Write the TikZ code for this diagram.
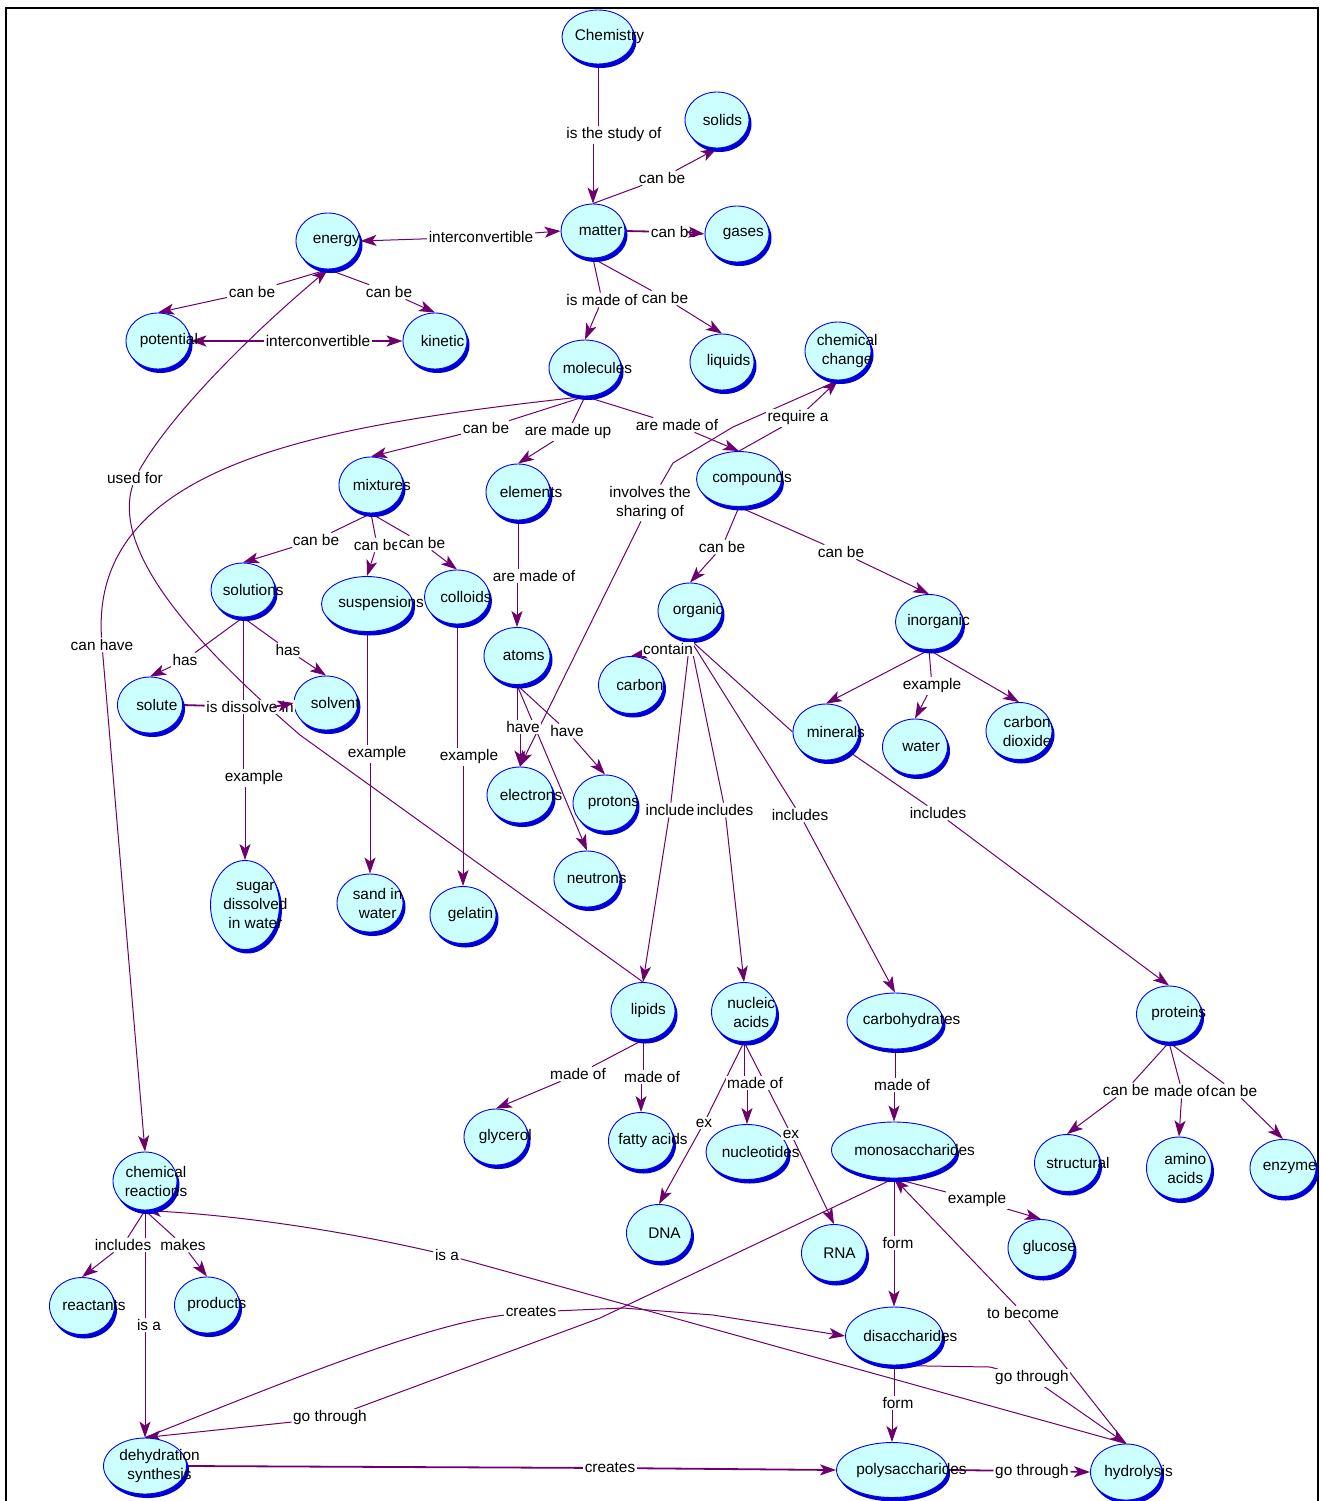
\documentclass[tikz,border=0pt]{standalone}
\usepackage{fontspec}
\setmainfont{Liberation Sans}
\usetikzlibrary{shapes.geometric,shadows,arrows.meta}
\pgfdeclarelayer{bg}
\pgfsetlayers{bg,main}
\definecolor{linkc}{RGB}{110,0,110}
\definecolor{cfill}{RGB}{204,255,255}
\definecolor{cborder}{RGB}{0,0,255}
\definecolor{cshadow}{RGB}{0,0,210}
\tikzset{
 concept/.style={ellipse, draw=cborder, line width=0.9pt, fill=cfill, inner sep=0pt,
   drop shadow={shadow xshift=2.5pt, shadow yshift=-4pt, fill=cshadow, opacity=1}},
 ctext/.style={anchor=west, inner sep=0pt, align=center, font=\fontsize{15.4}{19}\selectfont, text=black},
 lab/.style={fill=white, inner sep=1.5pt, align=center, font=\fontsize{15.4}{19}\selectfont},
 lk/.style={draw=linkc, line width=1pt},
 ar/.style={lk, -{Stealth[length=16pt,width=11pt,inset=4pt]}},
 thk/.style={line width=1.8pt},
}
\newcommand\cn[7]{\node[concept, minimum width=#4pt, minimum height=#5pt, label={[ctext,xshift=#6pt]west:{#7}}] (#1) at (#2,#3) {};}
\newcommand\lb[4]{\node[lab] (#1) at (#2,#3) {#4};}
\begin{document}
\begin{tikzpicture}[x=1pt,y=-1pt]
\useasboundingbox (0,0) rectangle (1320,1501);
\draw[line width=2pt] (6,1503) -- (6,8) -- (1318,8) -- (1318,1503);
% concepts
\cn{chem}{598}{37}{72}{54}{13}{Chemistry}
\cn{solids}{717}{120}{64}{56}{18}{solids}
\cn{matter}{593}{231}{64}{54}{18}{matter}
\cn{gases}{737}{234}{64}{56}{18}{gases}
\cn{energy}{328}{241}{64}{56}{17}{energy}
\cn{potential}{158}{341}{64}{56}{14}{potential}
\cn{kinetic}{435}{341}{64}{56}{18}{kinetic}
\cn{molecules}{585}{368}{72}{56}{14}{molecules}
\cn{liquids}{722}{362}{64}{56}{17}{liquids}
\cn{chchange}{838}{351}{66}{58}{12}{chemical\\change}
\cn{mixtures}{371}{485}{64}{56}{14}{mixtures}
\cn{elements}{518}{492}{64}{56}{14}{elements}
\cn{compounds}{739}{479}{85}{55}{16}{compounds}
\cn{solutions}{243}{590}{64}{54}{12}{solutions}
\cn{suspensions}{367}{604}{91}{55}{17}{suspensions}
\cn{colloids}{457}{597}{65}{54}{16}{colloids}
\cn{solute}{150}{705}{65}{56}{19}{solute}
\cn{solvent}{326}{703}{64}{54}{17}{solvent}
\cn{atoms}{517}{656}{66}{57}{19}{atoms}
\cn{carbon}{631}{685}{65}{57}{18}{carbon}
\cn{organic}{690}{611}{64}{56}{15}{organic}
\cn{inorganic}{929}{622}{67}{55}{12}{inorganic}
\cn{minerals}{826}{732}{66}{56}{14}{minerals}
\cn{water}{915}{747}{65}{56}{20}{water}
\cn{cotwo}{1019}{731}{66}{57}{17}{carbon\\dioxide}
\cn{electrons}{520}{795}{66}{56}{13}{electrons}
\cn{protons}{605}{803}{64}{56}{15}{protons}
\cn{neutrons}{587}{879}{66}{56}{13}{neutrons}
\cn{sugar}{245}{905}{69}{89}{13}{sugar\\dissolved\\in water}
\cn{sand}{370}{903}{66}{58}{16}{sand in\\water}
\cn{gelatin}{463}{915}{66}{57}{18}{gelatin}
\cn{lipids}{643}{1011}{64}{57}{20}{lipids}
\cn{nucleic}{744}{1012}{65}{59}{16}{nucleic\\acids}
\cn{fatty}{641}{1141}{65}{57}{10}{fatty acids}
\cn{nucleotides}{747}{1152}{82}{55}{16}{nucleotides}
\cn{dna}{659}{1233}{65}{57}{22}{DNA}
\cn{rna}{834}{1253}{65}{57}{22}{RNA}
\cn{mono}{894}{1150}{125}{56}{23}{monosaccharides}
\cn{glucose}{1041}{1248}{66}{57}{15}{glucose}
\cn{di}{894}{1336}{97}{58}{18}{disaccharides}
\cn{poly}{892}{1470}{111}{55}{20}{polysaccharides}
\cn{hydro}{1126}{1472}{71}{56}{14}{hydrolysis}
\cn{structural}{1067}{1163}{65}{57}{12}{structural}
\cn{amino}{1179}{1168}{65}{62}{18}{amino\\acids}
\cn{enzyme}{1283}{1168}{66}{57}{13}{enzyme}
\cn{proteins}{1169}{1014}{65}{56}{15}{proteins}
\cn{carbo}{895}{1021}{96}{56}{16}{carbohydrates}
\cn{glycerol}{496}{1137}{64}{56}{15}{glycerol}
\cn{chreact}{145}{1181}{64}{58}{12}{chemical\\reactions}
\cn{reactants}{82}{1306}{65}{57}{13}{reactants}
\cn{products}{207}{1305}{65}{56}{13}{products}
\cn{dehyd}{145}{1466}{83}{56}{16}{dehydration\\synthesis}
% linking phrases
\lb{lstudy}{614}{135}{is the study of}
\lb{lsolids}{662}{178}{can be}
\lb{lgases}{674}{232}{can be}
\lb{lint1}{481}{237}{interconvertible}
\lb{lpot}{252}{292}{can be}
\lb{lkin}{389}{292}{can be}
\lb{lint2}{318}{341}{interconvertible}
\lb{lmadeof}{602}{300}{is made of}
\lb{lliq}{665}{298}{can be}
\lb{lmix}{486}{428}{can be}
\lb{lmadeup}{568}{432}{are made up}
\lb{lmadeofc}{677}{425}{are made of}
\lb{lrequire}{798}{418}{require a}
\lb{linvolves}{650}{503}{involves the\\sharing of}
\lb{lused}{135}{478}{used for}
\lb{lcanhave}{102}{645}{can have}
\lb{lsol}{316}{540}{can be}
\lb{lsusp}{377}{545}{can be}
\lb{lcoll}{422}{543}{can be}
\lb{lhas1}{185}{660}{has}
\lb{lhas2}{288}{650}{has}
\lb{ldiss}{250}{707}{is dissolve in}
\lb{lex1}{254}{778}{example}
\lb{lex2}{377}{754}{example}
\lb{lex3}{469}{757}{example}
\lb{lmadeofa}{534}{576}{are made of}
\lb{lhave1}{523}{727}{have}
\lb{lhave2}{567}{731}{have}
\lb{lorg}{722}{547}{can be}
\lb{linorg}{841}{552}{can be}
\lb{lcontain}{668}{649}{contain}
\lb{lexw}{932}{686}{example}
\lb{linc1}{670}{810}{include}
\lb{linc2}{725}{810}{includes}
\lb{linc3}{800}{815}{includes}
\lb{linc4}{938}{813}{includes}
\lb{lmg}{578}{1074}{made of}
\lb{lmf}{652}{1077}{made of}
\lb{lmn}{755}{1083}{made of}
\lb{lexd}{704}{1123}{ex}
\lb{lexr}{791}{1134}{ex}
\lb{lmc}{902}{1085}{made of}
\lb{lcs}{1126}{1090}{can be}
\lb{lma}{1182}{1091}{made of}
\lb{lce}{1234}{1091}{can be}
\lb{lexg}{977}{1200}{example}
\lb{lform1}{898}{1243}{form}
\lb{lbecome}{1023}{1313}{to become}
\lb{lform2}{898}{1403}{form}
\lb{lgo1}{1032}{1378}{go through}
\lb{lgo2}{1032}{1471}{go through}
\lb{lcr1}{610}{1468}{creates}
\lb{lcr2}{531}{1312}{creates}
\lb{lgo3}{330}{1418}{go through}
\lb{lisa1}{149}{1325}{is a}
\lb{lisa2}{447}{1255}{is a}
\lb{lincl5}{123}{1245}{includes}
\lb{lmakes}{183}{1245}{makes}
% connectors
\begin{pgfonlayer}{bg}
\fill[white] (0,0) rectangle (1320,1501);
\draw[lk] (chem.south) -- (chem.south |- lstudy.north); \draw[ar] (matter.north |- lstudy.south) -- (matter.north);
\draw[lk] (matter.north) -- (lsolids); \draw[ar] (lsolids) -- (solids.south);
\draw[lk,thk] (matter.east) -- (lgases);
\draw[ar] (lint1) -- (energy.east); \draw[ar] (lint1) -- (matter.west);
\draw[lk] (energy.south) -- (lpot); \draw[ar] (lpot) -- (potential.north);
\draw[lk] (energy.south) -- (lkin); \draw[ar] (lkin) -- (kinetic.north);
\draw[ar,thk] (lint2) -- (potential.east); \draw[ar,thk] (lint2) -- (kinetic.west);
\draw[lk] (matter.south) -- (lmadeof); \draw[ar] (lmadeof) -- (molecules.north);
\draw[lk] (matter.south) -- (lliq); \draw[ar] (lliq) -- (liquids.north);
\draw[lk] (molecules.south) -- (lmix); \draw[ar] (lmix) -- (mixtures.north);
\draw[lk] (molecules.south) -- (lmadeup); \draw[ar] (lmadeup) -- (elements.north);
\draw[lk] (molecules.south) -- (lmadeofc); \draw[ar] (lmadeofc) -- (compounds.north);
\draw[lk] (molecules.south) .. controls (330,425) and (90,460) .. (lcanhave);
\draw[ar] (lcanhave) -- (chreact.north);
\draw[lk] (compounds.north) -- (lrequire); \draw[ar] (lrequire) -- (chchange.south);
\draw[lk] (chchange.south) -- (733,427) -- (673,463) -- (linvolves);
\draw[ar] (linvolves) -- (electrons.north);
\draw[lk] (mixtures.south) -- (lsol); \draw[ar] (lsol) -- (solutions.north);
\draw[lk] (mixtures.south) -- (lsusp); \draw[ar] (lsusp) -- (suspensions.north);
\draw[lk] (mixtures.south) -- (lcoll); \draw[ar] (lcoll) -- (colloids.north);
\draw[lk] (solutions.south) -- (lhas1); \draw[ar] (lhas1) -- (solute.north);
\draw[lk] (solutions.south) -- (lhas2); \draw[ar] (lhas2) -- (solvent.north);
\draw[lk,thk] (solute.east) -- (ldiss);
\draw[lk] (solutions.south) -- (solutions.south |- lex1.north); \draw[ar] (sugar.north |- lex1.south) -- (sugar.north);
\draw[lk] (suspensions.south) -- (suspensions.south |- lex2.north); \draw[ar] (sand.north |- lex2.south) -- (sand.north);
\draw[lk] (colloids.south) -- (colloids.south |- lex3.north); \draw[ar] (gelatin.north |- lex3.south) -- (gelatin.north);
\draw[lk] (elements.south) -- (elements.south |- lmadeofa.north); \draw[ar] (atoms.north |- lmadeofa.south) -- (atoms.north);
\draw[lk] (atoms.south) -- (atoms.south |- lhave1.north); \draw[ar] (electrons.north |- lhave1.south) -- (electrons.north);
\draw[lk] (atoms.south) -- (lhave2); \draw[ar] (lhave2) -- (protons.north);
\draw[ar] (atoms.south) -- (neutrons.north);
\draw[lk] (compounds.south) -- (lorg); \draw[ar] (lorg) -- (organic.north);
\draw[lk] (compounds.south) -- (linorg); \draw[ar] (linorg) -- (inorganic.north);
\draw[lk] (organic.south) -- (lcontain); \draw[ar] (lcontain) -- (carbon.north);
\draw[lk] (organic.south) -- (minerals.west);
\draw[lk] (organic.south) -- (linc1); \draw[ar] (linc1) -- (lipids.north);
\draw[lk] (organic.south) -- (linc2); \draw[ar] (linc2) -- (nucleic.north);
\draw[lk] (organic.south) -- (linc3); \draw[ar] (linc3) -- (carbo.north);
\draw[lk] (minerals.south east) -- (linc4); \draw[ar] (linc4) -- (proteins.north);
\draw[ar] (inorganic.south) -- (minerals.north);
\draw[lk] (inorganic.south) -- (lexw); \draw[ar] (lexw) -- (water.north);
\draw[ar] (inorganic.south) -- (cotwo.north);
\draw[lk] (lipids.north) -- (300,735) .. controls (190,640) and (112,550) .. (lused);
\draw[ar] (lused) .. controls (170,415) and (250,335) .. (energy.south);
\draw[lk] (carbo.south) -- (carbo.south |- lmc.north); \draw[ar] (mono.north |- lmc.south) -- (mono.north);
\draw[lk] (lipids.south) -- (lmg); \draw[ar] (lmg) -- (glycerol.north);
\draw[lk] (lipids.south) -- (lipids.south |- lmf.north); \draw[ar] (fatty.north |- lmf.south) -- (fatty.north);
\draw[lk] (nucleic.south) -- (nucleic.south |- lmn.north); \draw[ar] (nucleotides.north |- lmn.south) -- (nucleotides.north);
\draw[lk] (nucleic.south) -- (lexd); \draw[ar] (lexd) -- (dna.north);
\draw[lk] (nucleic.south) -- (lexr); \draw[ar] (lexr) -- (rna.north);
\draw[lk] (proteins.south) -- (lcs); \draw[ar] (lcs) -- (structural.north);
\draw[lk] (proteins.south) -- (lma); \draw[ar] (lma) -- (amino.north);
\draw[lk] (proteins.south) -- (lce); \draw[ar] (lce) -- (enzyme.north);
\draw[lk] (mono.south) -- (lexg); \draw[ar] (lexg) -- (glucose.north);
\draw[lk] (mono.south) -- (mono.south |- lform1.north); \draw[ar] (di.north |- lform1.south) -- (di.north);
\draw[lk] (di.south) -- (di.south |- lform2.north); \draw[ar] (poly.north |- lform2.south) -- (poly.north);
\draw[lk] (hydro.north) -- (lbecome); \draw[ar] (lbecome) -- (mono.south);
\draw[lk] (di.south) -- (990,1367) -- (lgo1); \draw[ar] (lgo1) -- (hydro.north);
\draw[lk,thk] (poly.east) -- (lgo2); \draw[ar,thk] (lgo2) -- (hydro.west);
\draw[lk,thk] (dehyd.east) -- (lcr1); \draw[ar,thk] (lcr1) -- (poly.west);
\draw[lk] (dehyd.north) .. controls (260,1392) and (420,1325) .. (lcr2);
\draw[ar] (lcr2) -- (623,1308) -- (713,1315) -- (di.west);
\draw[lk] (mono.south) -- (600,1318) -- (lgo3); \draw[ar] (lgo3) -- (dehyd.north);
\draw[lk] (chreact.south) -- (chreact.south |- lisa1.north); \draw[ar] (dehyd.north |- lisa1.south) -- (dehyd.north);
\draw[lk] (chreact.south) -- (lincl5); \draw[ar] (lincl5) -- (reactants.north);
\draw[lk] (chreact.south) -- (lmakes); \draw[ar] (lmakes) -- (products.north);
\draw[lk] (hydro.north) -- (lisa2);
\draw[ar] (lisa2) .. controls (330,1228) and (230,1215) .. (chreact.south);
\end{pgfonlayer}
\draw[ar,thk] ([xshift=-12pt]lgases.east) -- (gases.west);
\draw[ar,thk] ([xshift=-22pt]ldiss.east) -- (solvent.west);
\end{tikzpicture}
\end{document}
